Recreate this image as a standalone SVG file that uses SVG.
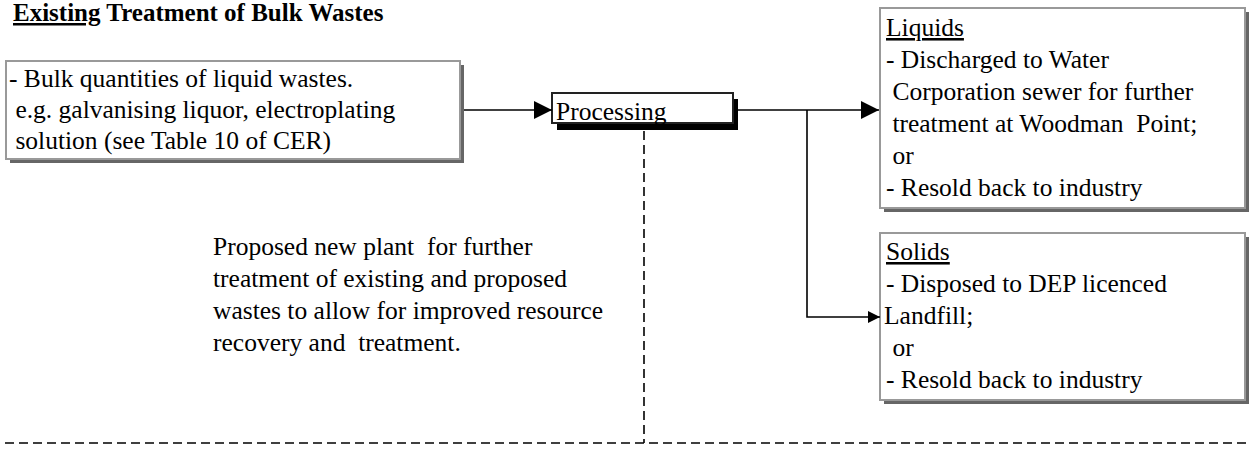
<svg xmlns="http://www.w3.org/2000/svg" width="1255" height="450" viewBox="0 0 1255 450">
<style>
.t{font-size:25.5px;fill:#000;white-space:pre}
.title{font-weight:bold;font-size:25px}
.u{text-decoration:underline}
.box{fill:#fff;stroke:#999;stroke-width:2}
.shadow{fill:#666}
.line{fill:none;stroke:#000;stroke-width:1.6}
.dash{fill:none;stroke:#000;stroke-width:1.6;stroke-dasharray:9 5}
</style>
<defs>
<marker id="ah" markerWidth="18" markerHeight="18" refX="18" refY="9" orient="auto" markerUnits="userSpaceOnUse">
<path d="M0,0 L18,9 L0,18 Z" fill="#000"/>
</marker>
<marker id="ahs" markerWidth="12" markerHeight="12" refX="12" refY="6" orient="auto" markerUnits="userSpaceOnUse">
<path d="M0,0 L12,6 L0,12 Z" fill="#000"/>
</marker>
</defs>
<g font-family="Liberation Serif, DejaVu Serif, serif">
<g id="title">
<text class="t title" x="13" y="21"><tspan class="u">Existing</tspan> Treatment of Bulk Wastes</text>
</g>
<g id="input">
<rect class="shadow" x="10" y="65" width="454" height="98"/>
<rect class="box" x="6" y="61" width="454" height="98"/>
<text class="t" x="9" y="87">- Bulk quantities of liquid wastes.</text>
<text class="t" x="9" y="118"> e.g. galvanising liquor, electroplating</text>
<text class="t" x="9" y="149"> solution (see Table 10 of CER)</text>
</g>
<g id="processing">
<rect x="557" y="99" width="181" height="31" fill="#000"/>
<rect x="552" y="93" width="181" height="30" fill="#fff" stroke="#222" stroke-width="2"/>
<text class="t" x="556" y="120">Processing</text>
</g>
<g id="liquids">
<rect class="shadow" x="884" y="12" width="365" height="200"/>
<rect class="box" x="880" y="8" width="365" height="200"/>
<text class="t u" x="886" y="36">Liquids</text>
<text class="t" x="886" y="68">- Discharged to Water</text>
<text class="t" x="886" y="100"> Corporation sewer for further</text>
<text class="t" x="886" y="132"> treatment at Woodman  Point;</text>
<text class="t" x="886" y="164"> or</text>
<text class="t" x="886" y="196">- Resold back to industry</text>
</g>
<g id="solids">
<rect class="shadow" x="884" y="237" width="365" height="167"/>
<rect class="box" x="880" y="233" width="365" height="167"/>
<text class="t u" x="886" y="260">Solids</text>
<text class="t" x="886" y="292">- Disposed to DEP licenced</text>
<text class="t" x="884" y="324">Landfill;</text>
<text class="t" x="886" y="356"> or</text>
<text class="t" x="886" y="388">- Resold back to industry</text>
</g>
<g id="note">
<text class="t" x="213" y="255">Proposed new plant  for further</text>
<text class="t" x="213" y="287">treatment of existing and proposed</text>
<text class="t" x="213" y="319">wastes to allow for improved resource</text>
<text class="t" x="213" y="351">recovery and  treatment.</text>
</g>
</g>
<g id="connectors">
<line class="line" x1="464" y1="110" x2="552" y2="110" marker-end="url(#ah)"/>
<line class="line" x1="738" y1="110" x2="879" y2="110" marker-end="url(#ah)"/>
<polyline class="line" points="807,110 807,317 880,317" marker-end="url(#ahs)"/>
<line class="dash" x1="644" y1="131" x2="644" y2="443"/>
<line class="dash" x1="5" y1="443" x2="1250" y2="443"/>
</g>
</svg>
